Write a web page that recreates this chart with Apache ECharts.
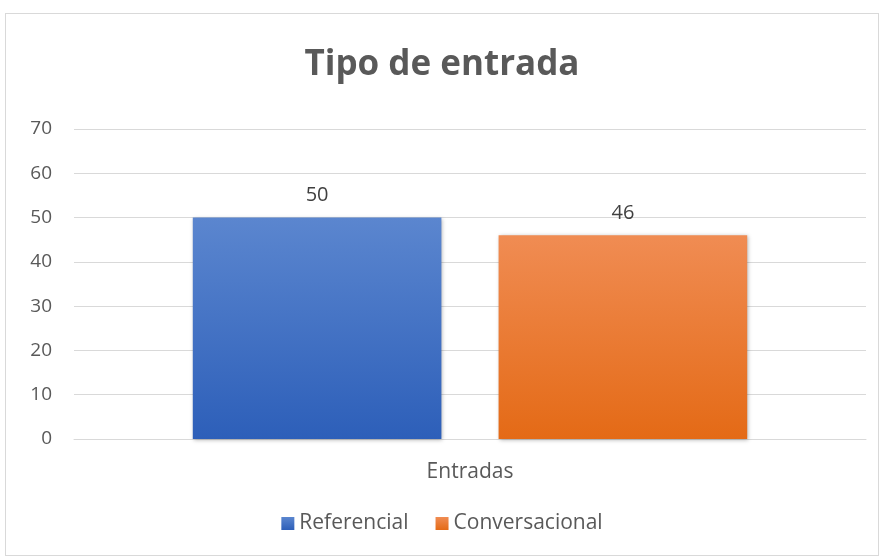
<!DOCTYPE html>
<html>
<head>
<meta charset="utf-8">
<script src="https://cdn.jsdelivr.net/npm/echarts@6/dist/echarts.min.js"></script>
<style>
  html, body { margin: 0; padding: 0; background: #fff; }
  #chart { position: absolute; left: 5px; top: 13px; width: 874px; height: 543px;
           border: 1px solid #d9d9d9; box-sizing: border-box; }
</style>
</head>
<body>
<div id="chart"></div>
<script>
// chart data
const categories = ['Entradas'];
const seriesNames = ['Referencial', 'Conversacional'];
const referencial = [50];
const conversacional = [46];
const yTicks = { min: 0, max: 70, interval: 10 };

const fontFam = '"Open Sans", "Noto Sans", sans-serif';

function grad(top, bottom) {
    return new echarts.graphic.LinearGradient(0, 0, 0, 1, [
        { offset: 0, color: top },
        { offset: 1, color: bottom }
    ]);
}

const chart = echarts.init(document.getElementById('chart'));
const barStyle = (top, bottom) => ({
    color: grad(top, bottom),
    shadowColor: 'rgba(0,0,0,0.3)',
    shadowBlur: 4,
    shadowOffsetX: 1,
    shadowOffsetY: 1
});
const labelStyle = {
    show: true, position: 'top', distance: 12,
    color: '#404040', fontSize: 20, fontFamily: fontFam
};

chart.setOption({
    animation: false,
    title: {
        text: 'Tipo de entrada',
        left: 'center', top: 29,
        textStyle: { color: '#595959', fontSize: 35, fontWeight: 'bold', fontFamily: fontFam }
    },
    grid: { left: 68, right: 12, top: 115, bottom: 116 },
    legend: {
        bottom: 16, left: 'center',
        itemWidth: 13, itemHeight: 13, itemGap: 27,
        icon: 'rect',
        textStyle: { color: '#595959', fontSize: 21, fontFamily: fontFam },
        data: seriesNames
    },
    xAxis: {
        type: 'category',
        data: categories,
        axisLine: { lineStyle: { color: '#d9d9d9', width: 1 } },
        axisTick: { show: false },
        axisLabel: { color: '#595959', fontSize: 21, fontFamily: fontFam, margin: 23 }
    },
    yAxis: {
        type: 'value',
        min: yTicks.min, max: yTicks.max, interval: yTicks.interval,
        axisLine: { show: false },
        axisTick: { show: false },
        splitLine: { lineStyle: { color: '#d9d9d9', width: 1 } },
        axisLabel: { color: '#595959', fontSize: 19, fontFamily: fontFam, margin: 22 }
    },
    series: [
        {
            name: seriesNames[0], type: 'bar', data: referencial,
            barGap: '23%', barCategoryGap: '30%',
            itemStyle: barStyle('#5b86cf', '#2d5fb9'),
            label: labelStyle
        },
        {
            name: seriesNames[1], type: 'bar', data: conversacional,
            itemStyle: barStyle('#f08c53', '#e46a16'),
            label: labelStyle
        }
    ]
});
</script>
</body>
</html>
